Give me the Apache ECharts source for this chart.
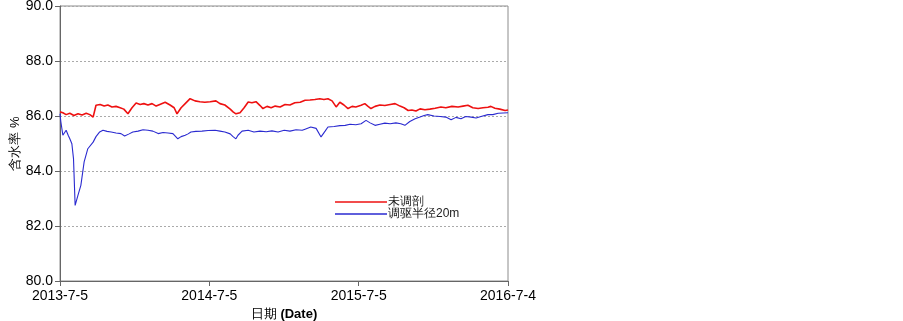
<!DOCTYPE html>
<html lang="zh">
<head>
    <meta charset="UTF-8">
    <title>含水率</title>
    <script src="https://cdn.jsdelivr.net/npm/echarts@6/dist/echarts.min.js"></script>
    <style>
        body { margin: 0; background: #fff; }
        #chart { width: 903px; height: 321px; }
    </style>
</head>
<body>
    <div id="chart"></div>
    <script>
        // x 轴：距 2013-7-5 的天数
        var dateLabels = ['2013-7-5', '2014-7-5', '2015-7-5', '2016-7-4'];
        var yTicks = [80, 82, 84, 86, 88, 90];

        // 未调剖
        var redDays = [0, 7, 15, 24, 34, 44, 54, 64, 73, 81, 88, 98, 108, 117, 127, 137, 147, 156, 166, 176,
            186, 196, 205, 215, 225, 235, 244, 257, 269, 279, 286, 296, 306, 318, 330, 342, 354, 367, 381, 391,
            403, 416, 423, 430, 440, 450, 460, 469, 479, 489, 496, 506, 516, 526, 538, 550, 562, 574, 587, 599,
            611, 623, 635, 645, 655, 665, 675, 684, 694, 704, 714, 723, 736, 745, 753, 760, 770, 782, 794, 807,
            819, 831, 841, 851, 860, 870, 880, 892, 904, 917, 931, 943, 958, 973, 985, 997, 1009, 1022, 1034, 1046,
            1053, 1063, 1075, 1088, 1095];
        var redValues = [86.15, 86.12, 86.05, 86.1, 86.02, 86.08, 86.04, 86.1, 86.05, 85.96, 86.39, 86.42, 86.36, 86.4, 86.33, 86.35, 86.3, 86.25, 86.08, 86.3,
            86.47, 86.42, 86.45, 86.4, 86.45, 86.36, 86.42, 86.5, 86.4, 86.3, 86.08, 86.3, 86.45, 86.63, 86.55, 86.52, 86.5, 86.52, 86.55, 86.45,
            86.4, 86.25, 86.15, 86.08, 86.12, 86.3, 86.51, 86.48, 86.52, 86.38, 86.27, 86.35, 86.3, 86.36, 86.33, 86.42, 86.4, 86.48, 86.5, 86.57,
            86.58, 86.6, 86.63, 86.6, 86.63, 86.55, 86.33, 86.5, 86.4, 86.27, 86.35, 86.33, 86.39, 86.45, 86.35, 86.27, 86.35, 86.4, 86.38, 86.42,
            86.45, 86.36, 86.3, 86.2, 86.22, 86.18, 86.26, 86.23, 86.25, 86.28, 86.33, 86.3, 86.35, 86.33, 86.36, 86.39, 86.3, 86.27, 86.3, 86.32,
            86.35, 86.28, 86.25, 86.2, 86.22];

        // 调驱半径20m
        var blueDays = [0, 2, 7, 15, 20, 24, 29, 33, 37, 44, 51, 59, 68, 81, 88, 97, 105, 115, 125, 137,
            149, 158, 169, 178, 191, 203, 215, 227, 240, 252, 264, 276, 288, 296, 306, 313, 320, 332, 347, 362,
            379, 391, 403, 416, 423, 430, 435, 445, 460, 474, 489, 504, 518, 533, 548, 562, 577, 592, 599, 613,
            626, 638, 648, 655, 670, 684, 697, 709, 723, 736, 748, 758, 770, 782, 794, 807, 821, 833, 843, 855,
            868, 880, 890, 899, 914, 929, 943, 956, 968, 980, 992, 1005, 1017, 1029, 1046, 1058, 1071, 1083, 1095];
        var blueValues = [86.08, 85.8, 85.3, 85.48, 85.3, 85.17, 84.99, 84.45, 82.75, 83.12, 83.48, 84.33, 84.81, 85.05, 85.25, 85.42, 85.48, 85.44, 85.42, 85.38,
            85.36, 85.27, 85.35, 85.42, 85.45, 85.5, 85.48, 85.45, 85.36, 85.4, 85.38, 85.36, 85.17, 85.25, 85.3, 85.35, 85.42, 85.44, 85.45, 85.47,
            85.48, 85.45, 85.42, 85.35, 85.25, 85.17, 85.3, 85.45, 85.48, 85.42, 85.45, 85.43, 85.46, 85.42, 85.48, 85.45, 85.5, 85.48, 85.52, 85.6,
            85.55, 85.24, 85.45, 85.6, 85.62, 85.65, 85.66, 85.7, 85.68, 85.72, 85.84, 85.75, 85.66, 85.7, 85.74, 85.72, 85.75, 85.72, 85.66, 85.8,
            85.9, 85.96, 86.02, 86.05, 86.0, 85.98, 85.96, 85.86, 85.95, 85.9, 85.98, 85.96, 85.93, 85.98, 86.05, 86.05, 86.1, 86.11, 86.12];

        function pairs(days, values) {
            return days.map(function (d, i) { return [d, values[i]]; });
        }

        var chart = echarts.init(document.getElementById('chart'));
        var font = '"Liberation Sans", Arial, sans-serif';

        chart.setOption({
            animation: false,
            grid: {
                left: 60, right: 395, top: 6, bottom: 40,
                outerBoundsMode: 'none',
                containLabel: false,
                show: true, borderColor: '#8c8c8c', borderWidth: 1
            },
            legend: {
                orient: 'vertical',
                left: 330,
                top: 191,
                icon: 'rect',
                itemWidth: 52,
                itemHeight: 1.5,
                itemGap: 0,
                textStyle: { fontSize: 12, lineHeight: 12, color: '#222', fontFamily: font, padding: [0, 0, 0, -4] },
                data: ['未调剖', '调驱半径20m']
            },
            xAxis: {
                type: 'value',
                min: 0,
                max: 1095,
                interval: 365,
                name: '{a|日期 }{b|(Date)}',
                nameLocation: 'middle',
                nameGap: 26,
                nameTextStyle: {
                    rich: {
                        a: { fontSize: 13, color: '#000', fontFamily: font },
                        b: { fontSize: 13, color: '#000', fontWeight: 'bold', fontFamily: font }
                    }
                },
                axisLine: { lineStyle: { color: '#666', width: 1 } },
                axisTick: { show: true, length: 5, lineStyle: { color: '#666' } },
                axisLabel: {
                    color: '#000', fontSize: 14, fontFamily: font, margin: 8,
                    formatter: function (v) { return dateLabels[Math.round(v / 365)]; }
                },
                splitLine: { show: false }
            },
            yAxis: {
                type: 'value',
                min: yTicks[0],
                max: yTicks[yTicks.length - 1],
                interval: 2,
                name: '含水率 %',
                nameLocation: 'middle',
                nameRotate: 90,
                nameGap: 35,
                nameTextStyle: { fontSize: 13, color: '#000', fontFamily: font },
                axisLine: { show: true, lineStyle: { color: '#666', width: 1 } },
                axisTick: { show: true, length: 5, lineStyle: { color: '#666' } },
                axisLabel: {
                    color: '#000', fontSize: 14, fontFamily: font, margin: 7,
                    formatter: function (v) { return v.toFixed(1); }
                },
                splitLine: { show: true, lineStyle: { color: '#aaa', type: [2, 2], width: 1 } }
            },
            series: [
                {
                    name: '未调剖',
                    type: 'line',
                    data: pairs(redDays, redValues),
                    showSymbol: false,
                    symbol: 'none',
                    itemStyle: { color: '#ee1111' },
                    lineStyle: { color: '#ee1111', width: 1.6 }
                },
                {
                    name: '调驱半径20m',
                    type: 'line',
                    data: pairs(blueDays, blueValues),
                    showSymbol: false,
                    symbol: 'none',
                    itemStyle: { color: '#2a2ad0' },
                    lineStyle: { color: '#2a2ad0', width: 1.1 }
                }
            ]
        });
    </script>
</body>
</html>
